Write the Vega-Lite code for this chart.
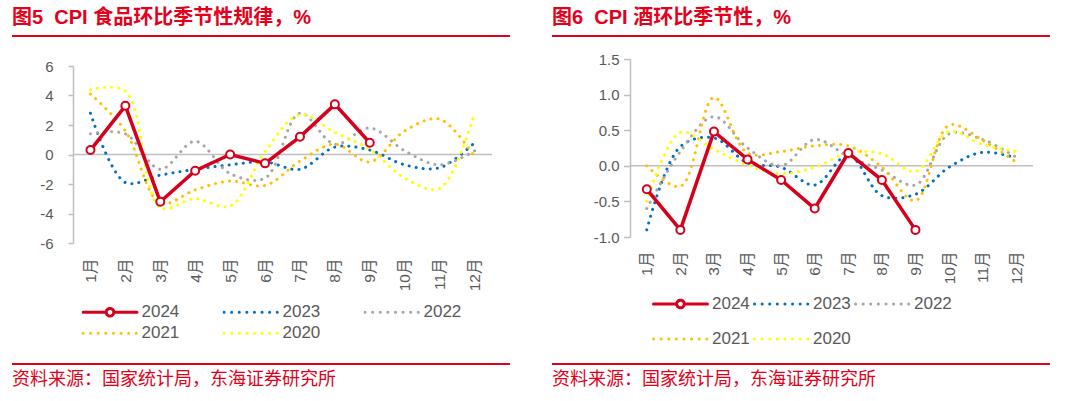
{
  "$schema": "https://vega.github.io/schema/vega-lite/v6.json",
  "background": "white",
  "padding": {"left": 12, "top": 8, "right": 0, "bottom": 0},
  "config": {
    "font": "Liberation Sans, Noto Sans CJK SC",
    "view": {"stroke": null},
    "axis": {"labelColor": "#595959", "labelFontSize": 15, "domainColor": "#bfbfbf", "domainWidth": 1.5, "tickColor": "#bfbfbf", "tickWidth": 1.5, "grid": false, "labelOverlap": false}
  },
  "datasets": {
    "food": [
      {"m": "1月", "year": "2024", "v": 0.3}, {"m": "2月", "year": "2024", "v": 3.3}, {"m": "3月", "year": "2024", "v": -3.2},
      {"m": "4月", "year": "2024", "v": -1.1}, {"m": "5月", "year": "2024", "v": 0.0}, {"m": "6月", "year": "2024", "v": -0.6},
      {"m": "7月", "year": "2024", "v": 1.2}, {"m": "8月", "year": "2024", "v": 3.4}, {"m": "9月", "year": "2024", "v": 0.8},
      {"m": "1月", "year": "2023", "v": 2.8}, {"m": "2月", "year": "2023", "v": -1.9}, {"m": "3月", "year": "2023", "v": -1.4},
      {"m": "4月", "year": "2023", "v": -1.0}, {"m": "5月", "year": "2023", "v": -0.7}, {"m": "6月", "year": "2023", "v": -0.5},
      {"m": "7月", "year": "2023", "v": -1.0}, {"m": "8月", "year": "2023", "v": 0.5}, {"m": "9月", "year": "2023", "v": 0.3},
      {"m": "10月", "year": "2023", "v": -0.7}, {"m": "11月", "year": "2023", "v": -0.9}, {"m": "12月", "year": "2023", "v": 0.8},
      {"m": "1月", "year": "2022", "v": 1.4}, {"m": "2月", "year": "2022", "v": 1.4}, {"m": "3月", "year": "2022", "v": -1.0},
      {"m": "4月", "year": "2022", "v": 0.9}, {"m": "5月", "year": "2022", "v": -1.3}, {"m": "6月", "year": "2022", "v": -1.6},
      {"m": "7月", "year": "2022", "v": 2.8}, {"m": "8月", "year": "2022", "v": 0.7}, {"m": "9月", "year": "2022", "v": 1.8},
      {"m": "10月", "year": "2022", "v": 0.25}, {"m": "11月", "year": "2022", "v": -0.7}, {"m": "12月", "year": "2022", "v": 0.25},
      {"m": "1月", "year": "2021", "v": 4.1}, {"m": "2月", "year": "2021", "v": 1.6}, {"m": "3月", "year": "2021", "v": -3.3},
      {"m": "4月", "year": "2021", "v": -2.4}, {"m": "5月", "year": "2021", "v": -1.8}, {"m": "6月", "year": "2021", "v": -2.1},
      {"m": "7月", "year": "2021", "v": -0.45}, {"m": "8月", "year": "2021", "v": 0.7}, {"m": "9月", "year": "2021", "v": -0.5},
      {"m": "10月", "year": "2021", "v": 1.6}, {"m": "11月", "year": "2021", "v": 2.4}, {"m": "12月", "year": "2021", "v": -0.15},
      {"m": "1月", "year": "2020", "v": 4.4}, {"m": "2月", "year": "2020", "v": 4.3}, {"m": "3月", "year": "2020", "v": -3.6},
      {"m": "4月", "year": "2020", "v": -3.0}, {"m": "5月", "year": "2020", "v": -3.5}, {"m": "6月", "year": "2020", "v": 0.2},
      {"m": "7月", "year": "2020", "v": 2.7}, {"m": "8月", "year": "2020", "v": 1.5}, {"m": "9月", "year": "2020", "v": 0.35},
      {"m": "10月", "year": "2020", "v": -1.6}, {"m": "11月", "year": "2020", "v": -2.3}, {"m": "12月", "year": "2020", "v": 2.8}
    ],
    "wine": [
      {"m": "1月", "year": "2024", "v": -0.33}, {"m": "2月", "year": "2024", "v": -0.9}, {"m": "3月", "year": "2024", "v": 0.48},
      {"m": "4月", "year": "2024", "v": 0.09}, {"m": "5月", "year": "2024", "v": -0.2}, {"m": "6月", "year": "2024", "v": -0.6},
      {"m": "7月", "year": "2024", "v": 0.18}, {"m": "8月", "year": "2024", "v": -0.2}, {"m": "9月", "year": "2024", "v": -0.9},
      {"m": "1月", "year": "2023", "v": -0.9}, {"m": "2月", "year": "2023", "v": 0.27}, {"m": "3月", "year": "2023", "v": 0.39},
      {"m": "4月", "year": "2023", "v": 0.04}, {"m": "5月", "year": "2023", "v": -0.02}, {"m": "6月", "year": "2023", "v": -0.27},
      {"m": "7月", "year": "2023", "v": 0.15}, {"m": "8月", "year": "2023", "v": -0.42}, {"m": "9月", "year": "2023", "v": -0.4},
      {"m": "10月", "year": "2023", "v": -0.02}, {"m": "11月", "year": "2023", "v": 0.19}, {"m": "12月", "year": "2023", "v": 0.11},
      {"m": "1月", "year": "2022", "v": -0.6}, {"m": "2月", "year": "2022", "v": 0.2}, {"m": "3月", "year": "2022", "v": 0.69},
      {"m": "4月", "year": "2022", "v": 0.25}, {"m": "5月", "year": "2022", "v": 0.0}, {"m": "6月", "year": "2022", "v": 0.37},
      {"m": "7月", "year": "2022", "v": 0.13}, {"m": "8月", "year": "2022", "v": -0.06}, {"m": "9月", "year": "2022", "v": -0.27},
      {"m": "10月", "year": "2022", "v": 0.45}, {"m": "11月", "year": "2022", "v": 0.37}, {"m": "12月", "year": "2022", "v": 0.12},
      {"m": "1月", "year": "2021", "v": 0.0}, {"m": "2月", "year": "2021", "v": -0.29}, {"m": "3月", "year": "2021", "v": 0.96},
      {"m": "4月", "year": "2021", "v": 0.18}, {"m": "5月", "year": "2021", "v": 0.2}, {"m": "6月", "year": "2021", "v": 0.28},
      {"m": "7月", "year": "2021", "v": 0.28}, {"m": "8月", "year": "2021", "v": -0.02}, {"m": "9月", "year": "2021", "v": -0.49},
      {"m": "10月", "year": "2021", "v": 0.57}, {"m": "11月", "year": "2021", "v": 0.36}, {"m": "12月", "year": "2021", "v": 0.05},
      {"m": "1月", "year": "2020", "v": -0.5}, {"m": "2月", "year": "2020", "v": 0.47}, {"m": "3月", "year": "2020", "v": 0.23},
      {"m": "4月", "year": "2020", "v": 0.01}, {"m": "5月", "year": "2020", "v": -0.11}, {"m": "6月", "year": "2020", "v": -0.02},
      {"m": "7月", "year": "2020", "v": 0.18}, {"m": "8月", "year": "2020", "v": 0.17}, {"m": "9月", "year": "2020", "v": -0.08},
      {"m": "10月", "year": "2020", "v": 0.48}, {"m": "11月", "year": "2020", "v": 0.3}, {"m": "12月", "year": "2020", "v": 0.2}
    ]
  },
  "resolve": {"scale": {"color": "independent"}, "legend": {"color": "independent"}},
  "spacing": 15,
  "vconcat": [
    {
      "spacing": 42,
      "hconcat": [
        {
          "title": {"text": "图5\u00a0\u00a0CPI 食品环比季节性规律，%", "anchor": "start", "fontSize": 20, "fontWeight": "bold", "color": "#e3001b", "offset": 7},
          "width": 498, "height": 2,
          "data": {"values": []},
          "mark": "rule",
          "encoding": {},
          "view": {"fill": "#e3001b", "stroke": null}
        },
        {
          "title": {"text": "图6\u00a0\u00a0CPI 酒环比季节性，%", "anchor": "start", "fontSize": 20, "fontWeight": "bold", "color": "#e3001b", "offset": 7},
          "width": 498, "height": 2,
          "data": {"values": []},
          "mark": "rule",
          "encoding": {},
          "view": {"fill": "#e3001b", "stroke": null}
        }
      ]
    },
    {
      "spacing": 0,
      "resolve": {"scale": {"color": "independent"}, "legend": {"color": "independent"}},
      "hconcat": [
        {
          "width": 1, "height": 1,
          "data": {"values": []},
          "mark": "rule",
          "encoding": {}
        },
        {
          "spacing": 60,
          "resolve": {"scale": {"color": "independent"}, "legend": {"color": "independent"}},
          "hconcat": [
            {
              "spacing": -1,
              "vconcat": [
                {
                  "width": 419, "height": 1,
                  "data": {"values": []},
                  "mark": "rule",
                  "encoding": {}
                },
                {
                  "width": 419, "height": 177,
                  "data": {"name": "food"},
                  "layer": [
                    {
                      "data": {"values": [{}]},
                      "mark": {"type": "rule", "color": "#bfbfbf", "strokeWidth": 1.5},
                      "encoding": {"y": {"datum": 0, "type": "quantitative", "scale": {"domain": [-6, 6], "nice": false, "zero": false}, "axis": {"title": null, "values": [-6, -4, -2, 0, 2, 4, 6], "tickCount": 12, "labelOverlap": false, "labelFontSize": 15, "labelExpr": "replace(datum.label, '−', '-')", "tickSize": 5, "labelPadding": 15, "minExtent": 60}}}
                    },
                    {
                      "transform": [{"filter": "datum.year != '2024'"}],
                      "mark": {"type": "line", "interpolate": "catmull-rom", "strokeWidth": 3, "strokeCap": "round", "strokeDash": [0.1, 7]},
                      "encoding": {
                        "x": {"field": "m", "type": "nominal", "sort": null, "scale": {"domain": ["1月","2月","3月","4月","5月","6月","7月","8月","9月","10月","11月","12月"]}, "axis": {"title": null, "labelAngle": -90, "labelFontSize": 15.5, "domain": false, "ticks": false, "labelPadding": 15}},
                        "y": {"field": "v", "type": "quantitative", "scale": {"domain": [-6, 6], "nice": false, "zero": false}, "axis": {"title": null, "values": [-6, -4, -2, 0, 2, 4, 6], "tickCount": 12, "labelOverlap": false, "labelFontSize": 15, "labelExpr": "replace(datum.label, '−', '-')", "tickSize": 5, "labelPadding": 15, "minExtent": 60}},
                        "color": {
                          "field": "year", "type": "nominal",
                          "scale": {"domain": ["2024", "2023", "2022", "2021", "2020"], "range": ["#d6001c", "#0070c0", "#a6a6a6", "#ffc000", "#ffff00"]},
                          "legend": {
                            "title": null, "orient": "none", "legendX": 8.5, "legendY": 244.75, "direction": "horizontal", "columns": 3,
                            "symbolType": "stroke", "symbolSize": 2916, "symbolStrokeWidth": 3, "clipHeight": 17,
                            "labelFontSize": 17, "labelColor": "#595959", "labelOffset": 3, "columnPadding": 43, "rowPadding": 3, "padding": 0,
                            "encode": {"symbols": {"update": {
                              "shape": {"signal": "datum.value === '2024' ? 'M-1,0H-0.14M0.14,0H1M0.14,0A0.14,0.14,0,1,1,-0.14,0A0.14,0.14,0,1,1,0.14,0Z' : 'stroke'"},
                              "strokeDash": {"signal": "datum.value === '2024' ? [1, 0] : [0.1, 7.5]"},
                              "strokeCap": {"value": "round"},
                              "fill": {"signal": "datum.value === '2024' ? '#ffffff' : 'transparent'"}
                            }}}
                          }
                        }
                      }
                    },
                    {
                      "transform": [{"filter": "datum.year == '2024'"}],
                      "mark": {"type": "line", "strokeWidth": 3.5},
                      "encoding": {
                        "x": {"field": "m", "type": "nominal", "sort": null},
                        "y": {"field": "v", "type": "quantitative"},
                        "color": {"field": "year", "type": "nominal"}
                      }
                    },
                    {
                      "transform": [{"filter": "datum.year == '2024'"}],
                      "mark": {"type": "point", "fill": "#ffffff", "stroke": "#d6001c", "strokeWidth": 2, "size": 64, "opacity": 1},
                      "encoding": {
                        "x": {"field": "m", "type": "nominal", "sort": null},
                        "y": {"field": "v", "type": "quantitative"}
                      }
                    }
                  ]
                }
              ]
            },
            {
              "width": 403, "height": 178,
              "data": {"name": "wine"},
              "layer": [
                {
                  "data": {"values": [{}]},
                  "mark": {"type": "rule", "color": "#bfbfbf", "strokeWidth": 1.5},
                  "encoding": {"y": {"datum": 0, "type": "quantitative", "scale": {"domain": [-1, 1.5], "nice": false, "zero": false}, "axis": {"title": null, "values": [-1, -0.5, 0, 0.5, 1, 1.5], "tickCount": 12, "format": ".1f", "labelOverlap": false, "labelFontSize": 15, "labelExpr": "replace(datum.label, '−', '-')", "tickSize": 6.5, "labelPadding": 4.5, "minExtent": 77}}}
                },
                {
                  "transform": [{"filter": "datum.year != '2024'"}],
                  "mark": {"type": "line", "interpolate": "catmull-rom", "strokeWidth": 3, "strokeCap": "round", "strokeDash": [0.1, 7]},
                  "encoding": {
                    "x": {"field": "m", "type": "nominal", "sort": null, "scale": {"domain": ["1月","2月","3月","4月","5月","6月","7月","8月","9月","10月","11月","12月"]}, "axis": {"title": null, "labelAngle": -90, "labelFontSize": 15.5, "domain": false, "ticks": false, "labelPadding": 14}},
                    "y": {"field": "v", "type": "quantitative", "scale": {"domain": [-1, 1.5], "nice": false, "zero": false}, "axis": {"title": null, "values": [-1, -0.5, 0, 0.5, 1, 1.5], "tickCount": 12, "format": ".1f", "labelOverlap": false, "labelFontSize": 15, "labelExpr": "replace(datum.label, '−', '-')", "tickSize": 6.5, "labelPadding": 4.5, "minExtent": 77}},
                    "color": {
                      "field": "year", "type": "nominal",
                      "scale": {"domain": ["2024", "2023", "2022", "2021", "2020"], "range": ["#d6001c", "#0070c0", "#a6a6a6", "#ffc000", "#ffff00"]},
                      "legend": {
                        "title": null, "orient": "none", "legendX": 22, "legendY": 236.5, "direction": "horizontal", "columns": 3,
                        "symbolType": "stroke", "symbolSize": 2916, "symbolStrokeWidth": 3, "clipHeight": 17,
                        "labelFontSize": 17, "labelColor": "#595959", "labelOffset": 3, "columnPadding": 3, "rowPadding": 17, "padding": 0,
                        "encode": {"symbols": {"update": {
                          "shape": {"signal": "datum.value === '2024' ? 'M-1,0H-0.14M0.14,0H1M0.14,0A0.14,0.14,0,1,1,-0.14,0A0.14,0.14,0,1,1,0.14,0Z' : 'stroke'"},
                          "strokeDash": {"signal": "datum.value === '2024' ? [1, 0] : [0.1, 7.5]"},
                          "strokeCap": {"value": "round"},
                          "fill": {"signal": "datum.value === '2024' ? '#ffffff' : 'transparent'"}
                        }}}
                      }
                    }
                  }
                },
                {
                  "transform": [{"filter": "datum.year == '2024'"}],
                  "mark": {"type": "line", "strokeWidth": 3.5},
                  "encoding": {
                    "x": {"field": "m", "type": "nominal", "sort": null},
                    "y": {"field": "v", "type": "quantitative"},
                    "color": {"field": "year", "type": "nominal"}
                  }
                },
                {
                  "transform": [{"filter": "datum.year == '2024'"}],
                  "mark": {"type": "point", "fill": "#ffffff", "stroke": "#d6001c", "strokeWidth": 2, "size": 64, "opacity": 1},
                  "encoding": {
                    "x": {"field": "m", "type": "nominal", "sort": null},
                    "y": {"field": "v", "type": "quantitative"}
                  }
                }
              ]
            }
          ]
        }
      ]
    },
    {
      "spacing": 42,
      "hconcat": [
        {
          "title": {"text": "资料来源：国家统计局，东海证券研究所", "orient": "bottom", "anchor": "start", "fontSize": 18, "fontWeight": "normal", "color": "#e3001b", "offset": 6},
          "width": 498, "height": 2,
          "data": {"values": []},
          "mark": "rule",
          "encoding": {},
          "view": {"fill": "#e3001b", "stroke": null}
        },
        {
          "title": {"text": "资料来源：国家统计局，东海证券研究所", "orient": "bottom", "anchor": "start", "fontSize": 18, "fontWeight": "normal", "color": "#e3001b", "offset": 6},
          "width": 498, "height": 2,
          "data": {"values": []},
          "mark": "rule",
          "encoding": {},
          "view": {"fill": "#e3001b", "stroke": null}
        }
      ]
    }
  ]
}
